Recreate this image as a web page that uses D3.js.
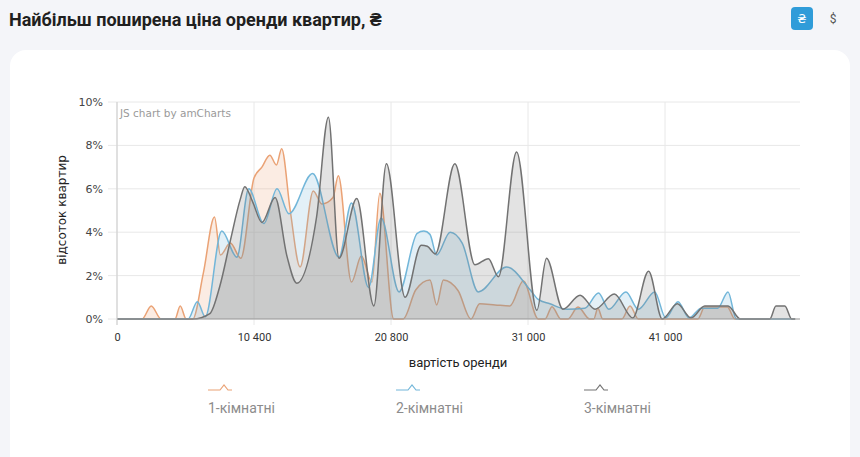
<!DOCTYPE html>
<html lang="uk">
<head>
<meta charset="UTF-8" />
<title>Найбільш поширена ціна оренди квартир</title>
<script src="https://d3js.org/d3.v7.min.js"></script>
<style>
  body { margin: 0; background: #f4f5f9; font-family: Roboto, sans-serif; overflow: hidden; }
  svg { display: block; }
</style>
</head>
<body>
<svg width="860" height="457"></svg>
<script>
// rent price (UAH) and share of flats (%) for each series
const oneRoomPrice = [0, 1900, 2600, 3350, 4400, 4800, 5250, 5750, 6550, 7400, 7850, 8600, 9400, 10400, 11000, 11600, 12100, 12500, 13150, 13900, 14900, 15550, 16400, 16800, 17800, 18550, 19350, 19950, 21000, 21700, 22650, 23700, 24200, 24700, 25800, 26750, 27400, 28550, 29650, 30650, 31750, 32250, 32750, 33400, 33900, 34650, 35500, 35800, 36100, 36450, 37850, 38450, 39050, 43400, 43900, 45550, 46100, 50500];
const oneRoomShare = [0, 0, 0.6, 0, 0, 0.6, 0, 0, 2.1, 4.7, 2.95, 3.5, 2.8, 6.5, 7.0, 7.55, 7.1, 7.85, 5.0, 2.4, 5.9, 5.3, 5.6, 6.6, 1.7, 2.9, 1.7, 5.8, 0, 0, 1.35, 1.8, 0.65, 1.8, 1.3, 0, 0.7, 0.65, 0.6, 1.75, 0, 0, 0.57, 0, 0, 0.55, 0, 0, 0.5, 0, 0, 0.6, 0, 0, 0.55, 0.55, 0, 0];

const twoRoomPrice = [0, 5400, 6100, 6700, 7950, 9100, 10000, 11150, 12150, 13050, 14850, 16850, 17800, 19100, 20050, 21400, 22750, 23250, 23700, 24200, 25200, 26100, 27300, 29400, 31150, 31750, 32600, 33850, 35150, 36150, 36900, 38150, 39050, 40250, 41050, 41950, 42750, 43650, 44850, 45600, 46200, 50500];
const twoRoomShare = [0, 0, 0.8, 0.1, 4.05, 2.85, 6.0, 4.4, 6.0, 4.85, 6.7, 2.85, 5.35, 1.45, 4.65, 1.25, 3.95, 4.05, 3.9, 2.95, 4.0, 3.5, 1.25, 2.4, 1.35, 0.9, 0.7, 0.45, 0.5, 1.2, 0.45, 1.25, 0.45, 1.25, 0.05, 0.8, 0.05, 0.5, 0.5, 1.25, 0, 0];

const threeRoomPrice = [0, 5750, 7050, 7800, 8600, 9350, 9700, 10300, 11000, 12000, 12900, 13650, 15150, 16050, 16850, 18200, 19500, 20450, 21850, 23050, 23500, 24100, 25550, 27050, 28050, 28800, 30150, 31650, 32350, 33550, 34800, 35900, 37300, 38650, 39800, 40800, 41900, 42900, 43900, 45600, 46500, 48650, 49100, 49750, 50250, 50500];
const threeRoomShare = [0, 0, 0.25, 1.5, 3.6, 5.5, 6.1, 5.4, 4.45, 5.6, 2.9, 1.65, 4.7, 9.3, 2.8, 5.55, 0.6, 7.15, 1.0, 3.4, 3.35, 3.0, 7.15, 2.5, 2.78, 1.95, 7.7, 0.4, 2.8, 0.45, 1.1, 0.45, 1.15, 0.05, 2.2, 0, 0.7, 0.05, 0.6, 0.6, 0, 0, 0.6, 0.6, 0, 0];

const xTicks = [0, 10400, 20800, 31000, 41000];
const yTicks = [0, 2, 4, 6, 8, 10];
const seriesNames = ["1-кімнатні", "2-кімнатні", "3-кімнатні"];
const seriesColors = ["#eaa275", "#72b6d9", "#727272"];

const svg = d3.select("svg");

// page header
svg.append("text")
  .attr("x", 9).attr("y", 26)
  .attr("font-size", 18).attr("font-weight", 700).attr("fill", "#1f1f1f")
  .text("Найбільш поширена ціна оренди квартир, ₴");

svg.append("rect")
  .attr("x", 791).attr("y", 7).attr("width", 22).attr("height", 23).attr("rx", 4)
  .attr("fill", "#2f9cd9");
svg.append("text")
  .attr("x", 802).attr("y", 23).attr("text-anchor", "middle")
  .attr("font-size", 12).attr("font-family", "DejaVu Sans").attr("fill", "#fff")
  .text("₴");
svg.append("text")
  .attr("x", 833).attr("y", 23).attr("text-anchor", "middle")
  .attr("font-size", 12).attr("fill", "#555")
  .text("$");

// card
svg.append("rect")
  .attr("x", 10).attr("y", 50).attr("width", 840).attr("height", 440).attr("rx", 16)
  .attr("fill", "#fff");

// plot geometry
const plotLeft = 117, plotTop = 102, plotBottom = 319, plotRight = 800, step = 137;

const x = d3.scaleLinear()
  .domain(xTicks)
  .range(xTicks.map((d, i) => plotLeft + i * step));
const y = d3.scaleLinear().domain([0, 10]).range([plotBottom, plotTop]);

// grid
const grid = svg.append("g");
grid.selectAll(".hg").data(yTicks).join("line")
  .attr("x1", plotLeft - 9).attr("x2", plotRight)
  .attr("y1", d => y(d)).attr("y2", d => y(d))
  .attr("stroke", "#e8e8e8");
grid.selectAll(".vg").data(xTicks.slice(1)).join("line")
  .attr("x1", d => x(d)).attr("x2", d => x(d))
  .attr("y1", plotTop).attr("y2", plotBottom + 6)
  .attr("stroke", "#e8e8e8");

svg.append("text")
  .attr("x", 120).attr("y", 117)
  .attr("font-family", "DejaVu Sans").attr("font-size", 10.5).attr("fill", "#9a9a9a")
  .text("JS chart by amCharts");

// series
const series = [
  { price: oneRoomPrice, share: oneRoomShare },
  { price: twoRoomPrice, share: twoRoomShare },
  { price: threeRoomPrice, share: threeRoomShare }
].map((s, i) => ({
  name: seriesNames[i],
  color: seriesColors[i],
  values: s.price.map((p, j) => ({ p, v: s.share[j] }))
}));

const area = d3.area()
  .x(d => x(d.p)).y0(y(0)).y1(d => y(d.v))
  .curve(d3.curveMonotoneX);
const line = d3.line()
  .x(d => x(d.p)).y(d => y(d.v))
  .curve(d3.curveMonotoneX);

const layers = svg.append("g").selectAll("g").data(series).join("g");
layers.append("path")
  .attr("d", d => area(d.values))
  .attr("fill", d => d.color).attr("fill-opacity", 0.2);
layers.append("path")
  .attr("d", d => line(d.values))
  .attr("fill", "none").attr("stroke", d => d.color).attr("stroke-width", 1.5);

// axes lines
svg.append("line")
  .attr("x1", plotLeft).attr("x2", plotLeft).attr("y1", plotTop).attr("y2", plotBottom + 6)
  .attr("stroke", "#d6d6d6").attr("stroke-width", 1.5);
svg.append("line")
  .attr("x1", plotLeft).attr("x2", plotRight).attr("y1", plotBottom).attr("y2", plotBottom)
  .attr("stroke", "#9c9c9c");

// y axis labels
const yAxis = svg.append("g")
  .attr("transform", `translate(${plotLeft},0)`)
  .call(d3.axisLeft(y).tickValues(yTicks).tickFormat(d => d + "%").tickSize(0).tickPadding(14));
yAxis.select(".domain").remove();
yAxis.selectAll("text")
  .attr("font-family", "DejaVu Sans").attr("font-size", 11).attr("fill", "#444");

// x axis labels
const xAxis = svg.append("g")
  .attr("transform", `translate(0,${plotBottom})`)
  .call(d3.axisBottom(x).tickValues(xTicks)
    .tickFormat(d => d3.format(",")(d).replace(",", " ")).tickSize(0).tickPadding(14));
xAxis.select(".domain").remove();
xAxis.selectAll("text")
  .attr("font-family", "Roboto").attr("font-size", 11).attr("fill", "#333");

// axis titles
svg.append("text")
  .attr("transform", "translate(66,210) rotate(-90)")
  .attr("text-anchor", "middle")
  .attr("font-family", "DejaVu Sans").attr("font-size", 12).attr("fill", "#222")
  .text("відсоток квартир");
svg.append("text")
  .attr("x", 458).attr("y", 367).attr("text-anchor", "middle")
  .attr("font-size", 13).attr("fill", "#222")
  .text("вартість оренди");

// legend
const legend = svg.append("g").selectAll("g").data(series).join("g")
  .attr("transform", (d, i) => `translate(${208 + i * 188},0)`);
legend.append("path")
  .attr("d", "M0,390 H12 L16,385 L20,390 H24")
  .attr("fill", "none").attr("stroke", d => d.color).attr("stroke-width", 1.2);
legend.append("text")
  .attr("x", 0).attr("y", 413)
  .attr("font-size", 14).attr("fill", "#8c8c8c")
  .text(d => d.name);
</script>
</body>
</html>
